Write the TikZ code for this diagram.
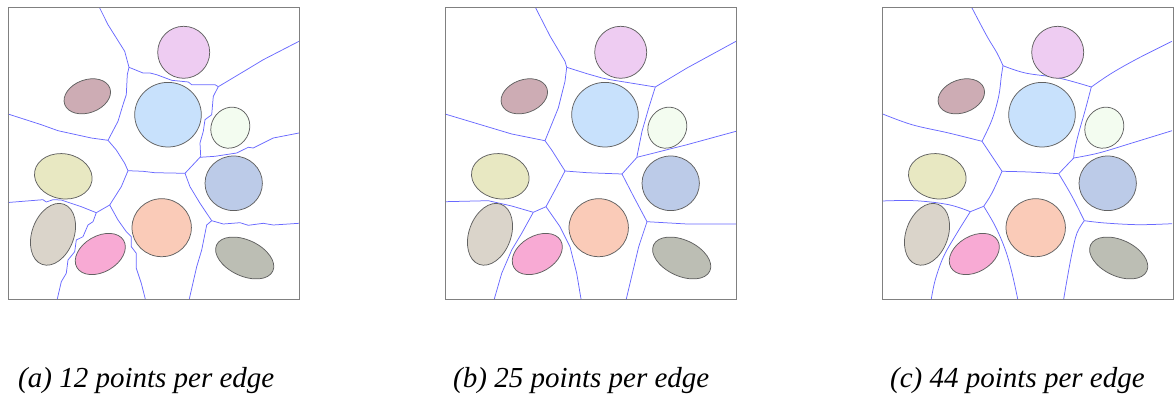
\documentclass[tikz,border=0pt]{standalone}
\usepackage{fontspec}
\setmainfont{Liberation Serif}
\usetikzlibrary{shapes.geometric}
\definecolor{cViol}{RGB}{238,204,242}
\definecolor{cMauve}{RGB}{205,172,180}
\definecolor{cLBlue}{RGB}{200,225,252}
\definecolor{cLGreen}{RGB}{243,252,240}
\definecolor{cYellow}{RGB}{232,232,194}
\definecolor{cSlate}{RGB}{188,203,232}
\definecolor{cBeige}{RGB}{218,212,202}
\definecolor{cPink}{RGB}{248,170,212}
\definecolor{cSalmon}{RGB}{250,203,184}
\definecolor{cGray}{RGB}{188,190,180}
\definecolor{cVor}{RGB}{105,105,255}
\tikzset{
  blob/.style={ellipse, draw=black!62, line width=0.75pt, inner sep=0pt},
  vor/.style={draw=cVor, line width=0.75pt, line join=round},
  frame/.style={draw=black!50, line width=1pt},
  captext/.style={anchor=base west, inner sep=0pt, font=\fontsize{29}{33}\selectfont\itshape}
}
\newcommand\myblobs[1]{%
  \node[blob,fill=cViol,minimum width=52pt,minimum height=52pt] (#1viol) at (175.7,44.3) {};
  \node[blob,fill=cMauve,minimum width=48pt,minimum height=33pt,rotate=20] (#1mauve) at (79.3,88.3) {};
  \node[blob,fill=cLBlue,minimum width=66.6pt,minimum height=64.6pt] (#1lblue) at (160,106.7) {};
  \node[blob,fill=cLGreen,minimum width=42pt,minimum height=38pt,rotate=60] (#1lgreen) at (222.3,119.7) {};
  \node[blob,fill=cYellow,minimum width=58pt,minimum height=45pt,rotate=-10] (#1yellow) at (55.3,168.3) {};
  \node[blob,fill=cSlate,minimum width=57.4pt,minimum height=54.6pt] (#1slate) at (225.7,175.3) {};
  \node[blob,fill=cBeige,minimum width=42pt,minimum height=64pt,rotate=-20] (#1beige) at (45,226.3) {};
  \node[blob,fill=cPink,minimum width=54pt,minimum height=36pt,rotate=30] (#1pink) at (92.3,246) {};
  \node[blob,fill=cSalmon,minimum width=59.4pt,minimum height=58pt] (#1salmon) at (153.7,219.7) {};
  \node[blob,fill=cGray,minimum width=62pt,minimum height=36pt,rotate=-25] (#1gray) at (236.7,250) {};
}
\begin{document}
\begin{tikzpicture}[x=1pt,y=-1pt]
\useasboundingbox (0,0) rectangle (1175,398);
% ---------------- panel (a)
\begin{scope}[shift={(8,8)}]
\path[vor] (91.7,0)--(100,16.7)--(116.7,43.3)--(121,59.3);
\path[vor] (121,59.3)--(135,65)--(142,65)--(148.7,66.7)--(163.7,72.3)--(180.3,74)--(183.7,76.7)--(207,76.7)--(210.3,78.7);
\path[vor] (210.3,78.7)--(238.7,61.7)--(255.3,51.7)--(291,33.3);
\path[vor] (210.3,78.7)--(205.3,88.3)--(203.7,106.7)--(197,111.7)--(195.3,123.3)--(192,135)--(192.7,148.3)--(192,149.3);
\path[vor] (192,149.3)--(207,148.3)--(228.7,145)--(240.3,139.3)--(245.3,140)--(265.3,130)--(291,125);
\path[vor] (192,149.3)--(177,165.3);
\path[vor] (177,165.3)--(146.7,164.7)--(135,163.3)--(120,162.7);
\path[vor] (177,165.3)--(182,178.7)--(192,195.3)--(203.7,212.7);
\path[vor] (203.7,212.7)--(215.3,216)--(232,214.7)--(240.3,217.3)--(255.3,215.3)--(265.3,217)--(291,215.3);
\path[vor] (203.7,212.7)--(198.7,217)--(193.7,242)--(188.7,258.7)--(181.3,291);
\path[vor] (120,162.7)--(116.7,155.3)--(108.3,142)--(100,132.3);
\path[vor] (100,132.3)--(110,113.3)--(115,96.7)--(118.3,86.7)--(119.3,66.7)--(121,59.3);
\path[vor] (100,132.3)--(83.3,130)--(50,122.7)--(33.3,116.7)--(0,106);
\path[vor] (120,162.7)--(113.3,178.7)--(101.7,197);
\path[vor] (101.7,197)--(88.3,204.7);
\path[vor] (88.3,204.7)--(73.3,198.7)--(53.3,192)--(45,191.7)--(38.3,194)--(35,191.7)--(0,194.5);
\path[vor] (88.3,204.7)--(85,213.7)--(80,217)--(75,228.7)--(68.3,232)--(66.7,243.7)--(60,252)--(58.3,265.3)--(53.3,273.7)--(49.3,291);
\path[vor] (101.7,197)--(110,212)--(118.3,223.7)--(123.3,228.7)--(123.3,238.7)--(128.3,245.3)--(128.3,260.3)--(133.3,275.3)--(137.3,291);
\myblobs{a}
\path[frame] (0,0) rectangle (291,291);
\end{scope}
% ---------------- panel (b)
\begin{scope}[shift={(445,8)}]
\path[vor] (90.7,0)--(105,28)--(120,53.3)--(121.7,59.3);
\path[vor] (121.7,59.3)--(142,65.7)--(157,70)--(165.3,71.7)--(210.3,79);
\path[vor] (210.3,79)--(242,60)--(291,33.3);
\path[vor] (210.3,79)--(203.7,100)--(197,123.3)--(192,148.3)--(192,149.3);
\path[vor] (192,149.3)--(242,136.7)--(291,123.3);
\path[vor] (192,149.3)--(177,166);
\path[vor] (177,166)--(142,164.7)--(120,163);
\path[vor] (177,166)--(188.7,188.7)--(202,213.7);
\path[vor] (202,213.7)--(242,216)--(291,216);
\path[vor] (202,213.7)--(193.7,238.7)--(181.3,291);
\path[vor] (120,163)--(106.7,142)--(100,132.7);
\path[vor] (100,132.7)--(113.3,100)--(120,73.3)--(121.7,59.3);
\path[vor] (100,132.7)--(66.7,126)--(33.3,116)--(0,106);
\path[vor] (120,163)--(110,182)--(101,198.7);
\path[vor] (101,198.7)--(88.3,204.3);
\path[vor] (88.3,204.3)--(66.7,198)--(43.3,192.7)--(0,193.7);
\path[vor] (88.3,204.3)--(76.7,225.3)--(66.7,242)--(56.7,265.3)--(49.3,291);
\path[vor] (101,198.7)--(115,218.7)--(125,238.7)--(131.7,265.3)--(136,291);
\myblobs{b}
\path[frame] (0,0) rectangle (291,291);
\end{scope}
% ---------------- panel (c)
\begin{scope}[shift={(882,8)}]
\path[vor] plot[smooth,tension=0.6] coordinates {(90,0) (105,28.3) (115,45) (121,57.7)};
\path[vor] plot[smooth,tension=0.6] coordinates {(121,57.7) (143.3,65) (176.7,70) (209.3,79)};
\path[vor] plot[smooth,tension=0.6] coordinates {(209.3,79) (230,65) (256.7,50) (290,33.3)};
\path[vor] plot[smooth,tension=0.6] coordinates {(209.3,79) (203.3,101.7) (196.7,125) (192.7,141.7) (191.7,150)};
\path[vor] plot[smooth,tension=0.6] coordinates {(191.7,150) (216.7,145) (250,135) (290,122.7)};
\path[vor] (191.7,150)--(176.7,165.7);
\path[vor] plot[smooth,tension=0.6] coordinates {(176.7,165.7) (146.7,164) (120,163.3)};
\path[vor] plot[smooth,tension=0.6] coordinates {(176.7,165.7) (190,188.3) (202.3,212.7)};
\path[vor] plot[smooth,tension=0.6] coordinates {(202.3,212.7) (223,215) (256.7,216.7) (290,215.7)};
\path[vor] plot[smooth,tension=0.6] coordinates {(202.3,212.7) (195,225) (190,245) (185,271.7) (181.7,291)};
\path[vor] plot[smooth,tension=0.6] coordinates {(120,163.3) (110,148.3) (100,133.3)};
\path[vor] plot[smooth,tension=0.6] coordinates {(100,133.3) (110,111.7) (116.7,88.3) (119.3,68.3) (121,57.7)};
\path[vor] plot[smooth,tension=0.6] coordinates {(100,133.3) (66.7,125) (30,116.7) (0,105.7)};
\path[vor] plot[smooth,tension=0.6] coordinates {(120,163.3) (110,185) (101.7,198.3)};
\path[vor] (101.7,198.3)--(88.3,203.7);
\path[vor] plot[smooth,tension=0.6] coordinates {(88.3,203.7) (66.7,196.7) (33.3,192.7) (0,193)};
\path[vor] plot[smooth,tension=0.6] coordinates {(88.3,203.7) (75,225) (61.7,248.3) (53.3,271.7) (49.3,291)};
\path[vor] plot[smooth,tension=0.6] coordinates {(101.7,198.3) (113.3,218.3) (123.3,241.7) (130,265) (135.7,291)};
\myblobs{c}
\path[frame] (0,0) rectangle (291,291);
\end{scope}
% ---------------- captions
\node[captext] (capa) at (18,387) {(a) 12 points per edge};
\node[captext] (capb) at (453,387) {(b) 25 points per edge};
\node[captext] (capc) at (890,387) {(c) 44 points per edge};
\end{tikzpicture}
\end{document}
